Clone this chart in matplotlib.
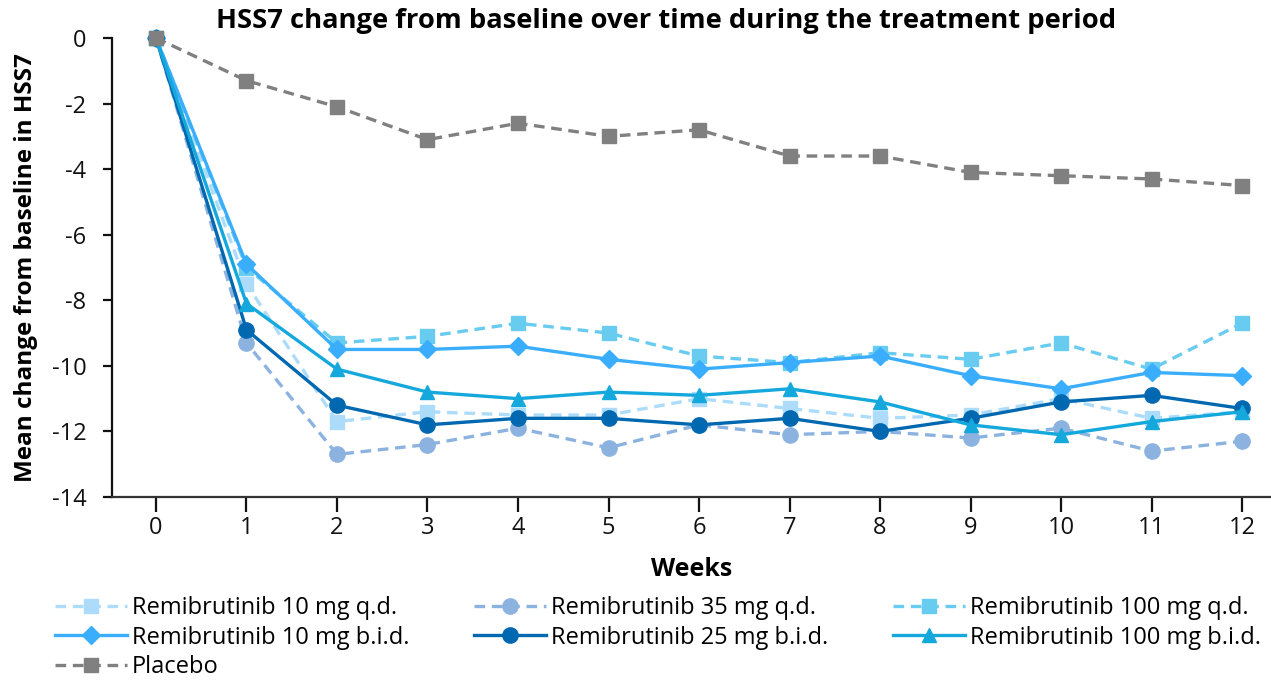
import matplotlib
matplotlib.use("Agg")
import matplotlib.pyplot as plt

plt.rcParams['font.family'] = ['Open Sans', 'DejaVu Sans']

weeks = list(range(13))
week_labels = [str(w) for w in weeks]

rem_10_qd = [0, -7.5, -11.7, -11.4, -11.5, -11.5, -11.0, -11.3, -11.6, -11.5, -11.0, -11.6, -11.4]
rem_35_qd = [0, -9.3, -12.7, -12.4, -11.9, -12.5, -11.8, -12.1, -12.0, -12.2, -11.9, -12.6, -12.3]
rem_100_qd = [0, -7.0, -9.3, -9.1, -8.7, -9.0, -9.7, -9.9, -9.6, -9.8, -9.3, -10.1, -8.7]
rem_10_bid = [0, -6.9, -9.5, -9.5, -9.4, -9.8, -10.1, -9.9, -9.7, -10.3, -10.7, -10.2, -10.3]
rem_25_bid = [0, -8.9, -11.2, -11.8, -11.6, -11.6, -11.8, -11.6, -12.0, -11.6, -11.1, -10.9, -11.3]
rem_100_bid = [0, -8.1, -10.1, -10.8, -11.0, -10.8, -10.9, -10.7, -11.1, -11.8, -12.1, -11.7, -11.4]
placebo = [0, -1.3, -2.1, -3.1, -2.6, -3.0, -2.8, -3.6, -3.6, -4.1, -4.2, -4.3, -4.5]

series = [
    ("Remibrutinib 10 mg q.d.", rem_10_qd, "#addcfa", "s", "--"),
    ("Remibrutinib 35 mg q.d.", rem_35_qd, "#8cb3e0", "o", "--"),
    ("Remibrutinib 100 mg q.d.", rem_100_qd, "#68ccf0", "s", "--"),
    ("Remibrutinib 10 mg b.i.d.", rem_10_bid, "#3aaefc", "D", "-"),
    ("Remibrutinib 25 mg b.i.d.", rem_25_bid, "#0068b0", "o", "-"),
    ("Remibrutinib 100 mg b.i.d.", rem_100_bid, "#14a8dc", "^", "-"),
    ("Placebo", placebo, "#808080", "s", "--"),
]

fig = plt.figure(figsize=(12.71, 6.81), dpi=100)
ax = fig.add_axes([112/1271, (681-497)/681, (1271-112)/1271, (497-38)/681])

msize = {"s": 10, "o": 11, "D": 9, "^": 10.5}
for label, vals, color, marker, ls in series:
    kw = dict(dashes=(3.2, 2.0)) if ls == "--" else dict(linestyle="-")
    ax.plot(weeks, vals, color=color, linewidth=2.4, marker=marker,
            markersize=msize[marker], markeredgecolor=color, markerfacecolor=color,
            label=label, clip_on=False, **kw)

ax.set_xlim(-0.486, 12.32)
ax.set_ylim(-14, 0)
ax.set_xticks(weeks)
ax.set_xticklabels(week_labels)
ax.set_yticks(range(-14, 1, 2))
ax.set_yticklabels([str(v) for v in range(-14, 1, 2)])
ax.spines['top'].set_visible(False)
ax.spines['right'].set_visible(False)
ax.spines['left'].set_linewidth(1.6)
ax.spines['bottom'].set_linewidth(1.6)
ax.spines['left'].set_color('#111111')
ax.spines['bottom'].set_color('#333333')
ax.tick_params(axis='both', direction='out', width=1.6, labelsize=17, colors='#111111')
ax.tick_params(axis='x', length=11, pad=3)
ax.tick_params(axis='y', length=6.5, pad=12)

fig.text(666/1271, 1 - 21/681, "HSS7 change from baseline over time during the treatment period",
         fontsize=19.7, fontweight='bold', ha='center', va='center')
ax.set_xlabel("Weeks", fontsize=18, fontweight='bold', labelpad=12)
ax.set_ylabel("Mean change from baseline in HSS7", fontsize=17.5, fontweight='bold', labelpad=10)

handles, labels = ax.get_legend_handles_labels()
order = [0, 3, 6, 1, 4, 2, 5]
leg = fig.legend([handles[i] for i in order], [labels[i] for i in order],
                 loc='upper left', bbox_to_anchor=(55/1271, 1 - 596/681),
                 ncol=3, frameon=False, fontsize=17, handlelength=3.05, handletextpad=0.2,
                 columnspacing=2.75, labelspacing=0.24, borderaxespad=0, borderpad=0)

fig.savefig("out.png", dpi=100)
